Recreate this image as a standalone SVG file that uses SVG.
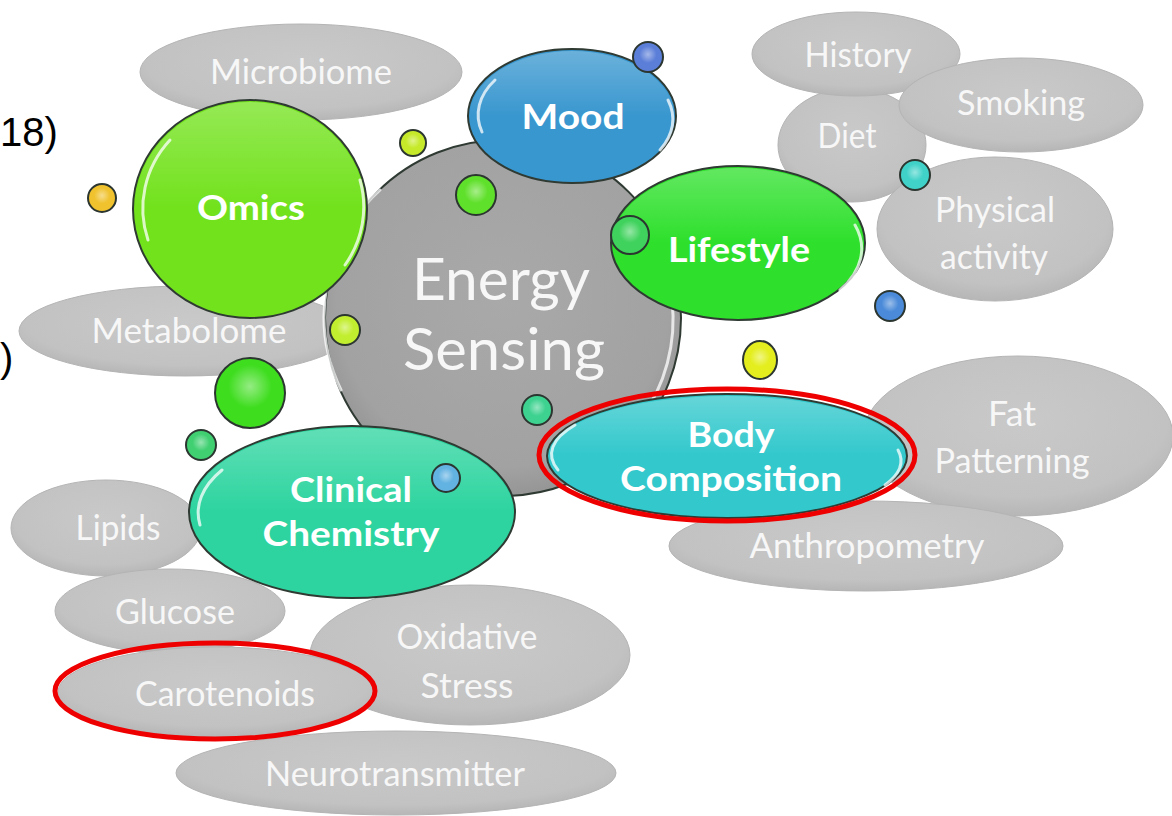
<svg xmlns="http://www.w3.org/2000/svg" width="1172" height="816" viewBox="0 0 1172 816">
  <defs>
    <radialGradient id="gGray" cx="50%" cy="40%" r="60%">
      <stop offset="0" stop-color="#c9c9c9"/>
      <stop offset="0.8" stop-color="#c2c2c2"/>
      <stop offset="1" stop-color="#b6b6b6"/>
    </radialGradient>
    <radialGradient id="gCore" cx="50%" cy="45%" r="55%">
      <stop offset="0" stop-color="#a9a9a9"/>
      <stop offset="0.85" stop-color="#a2a2a2"/>
      <stop offset="1" stop-color="#959595"/>
    </radialGradient>
    <linearGradient id="shine" x1="0" y1="0" x2="0" y2="1">
      <stop offset="0" stop-color="#ffffff" stop-opacity="0.25"/>
      <stop offset="0.5" stop-color="#ffffff" stop-opacity="0"/>
    </linearGradient>
    <radialGradient id="dotShine" cx="50%" cy="40%" r="55%">
      <stop offset="0" stop-color="#ffffff" stop-opacity="0.45"/>
      <stop offset="0.6" stop-color="#ffffff" stop-opacity="0"/>
    </radialGradient>
  </defs>
  <style>
    .bg { fill: url(#gGray); stroke: #b4b4b4; stroke-width: 1; }
    .lt { font-family: Lato, "Liberation Sans", sans-serif; font-size: 34px; fill: #f7f7f7; text-anchor: middle; }
    .bt { font-family: Lato, "Liberation Sans", sans-serif; font-size: 34px; font-weight: bold; fill: #ffffff; text-anchor: middle; }
    .node { stroke: #2f3a33; stroke-width: 2; }
    .hl { fill: none; stroke: #ffffff; stroke-width: 3; stroke-linecap: round; opacity: 0.75; }
    .dot { stroke: #2c3630; stroke-width: 2; }
    .ring { fill: none; stroke: #ee0000; stroke-width: 5; }
    .side { font-family: "Liberation Sans", Arial, sans-serif; font-size: 40px; fill: #000000; }
  </style>

  <rect width="1172" height="816" fill="#ffffff"/>

  <!-- text fragments at the left margin -->
  <text class="side" x="0" y="146">18)</text>
  <text class="side" x="0" y="372">)</text>

  <!-- outer grey topics -->
  <g id="microbiome"><ellipse class="bg" cx="301" cy="72" rx="161" ry="48"/><text class="lt" x="301" y="84" textLength="182" lengthAdjust="spacingAndGlyphs">Microbiome</text></g>
  <g id="metabolome"><ellipse class="bg" cx="185" cy="331" rx="166" ry="45"/><text class="lt" x="189" y="343" textLength="195" lengthAdjust="spacingAndGlyphs">Metabolome</text></g>
  <g id="diet"><ellipse class="bg" cx="852" cy="145" rx="74" ry="57"/><text class="lt" x="847" y="148" textLength="59" lengthAdjust="spacingAndGlyphs">Diet</text></g>
  <g id="history"><ellipse class="bg" cx="856" cy="54" rx="104" ry="42"/><text class="lt" x="858" y="67" textLength="107" lengthAdjust="spacingAndGlyphs">History</text></g>
  <g id="smoking"><ellipse class="bg" cx="1021" cy="105" rx="122" ry="47"/><text class="lt" x="1021" y="115" textLength="128" lengthAdjust="spacingAndGlyphs">Smoking</text></g>
  <g id="physical-activity"><ellipse class="bg" cx="995" cy="229" rx="118" ry="72"/><text class="lt" x="995" y="222" textLength="120" lengthAdjust="spacingAndGlyphs">Physical</text><text class="lt" x="994" y="269" textLength="108" lengthAdjust="spacingAndGlyphs">activity</text></g>
  <g id="fat-patterning"><ellipse class="bg" cx="1018" cy="436" rx="155" ry="80"/><text class="lt" x="1012" y="426" textLength="48" lengthAdjust="spacingAndGlyphs">Fat</text><text class="lt" x="1012" y="473" textLength="155" lengthAdjust="spacingAndGlyphs">Patterning</text></g>
  <g id="anthropometry"><ellipse class="bg" cx="866" cy="546" rx="197" ry="45"/><text class="lt" x="867" y="558" textLength="235" lengthAdjust="spacingAndGlyphs">Anthropometry</text></g>
  <g id="lipids"><ellipse class="bg" cx="106" cy="528" rx="95" ry="48"/><text class="lt" x="118" y="540" textLength="85" lengthAdjust="spacingAndGlyphs">Lipids</text></g>
  <g id="glucose"><ellipse class="bg" cx="170" cy="611" rx="115" ry="42"/><text class="lt" x="175" y="624" textLength="120" lengthAdjust="spacingAndGlyphs">Glucose</text></g>
  <g id="oxidative-stress"><ellipse class="bg" cx="470" cy="655" rx="160" ry="70"/><text class="lt" x="467" y="649" textLength="141" lengthAdjust="spacingAndGlyphs">Oxidative</text><text class="lt" x="467" y="698" textLength="93" lengthAdjust="spacingAndGlyphs">Stress</text></g>
  <g id="carotenoids"><ellipse class="bg" cx="216" cy="692" rx="158" ry="45"/><text class="lt" x="225" y="706" textLength="180" lengthAdjust="spacingAndGlyphs">Carotenoids</text></g>
  <g id="neurotransmitter"><ellipse class="bg" cx="396" cy="773" rx="220" ry="42"/><text class="lt" x="395" y="786" textLength="260" lengthAdjust="spacingAndGlyphs">Neurotransmitter</text></g>

  <!-- central circle -->
  <g id="energy-sensing">
    <circle class="node" cx="503" cy="318" r="178" fill="url(#gCore)"/>
    <path class="hl" d="M341 390 A170 170 0 0 1 380 190" opacity="0.5"/>
    <path class="hl" d="M672 300 A170 170 0 0 1 640 420" opacity="0.5"/>
    <text class="lt" x="501" y="300" style="font-size:58px" textLength="178" lengthAdjust="spacingAndGlyphs">Energy</text>
    <text class="lt" x="504" y="370" style="font-size:58px" textLength="202" lengthAdjust="spacingAndGlyphs">Sensing</text>
  </g>

  <!-- coloured domains -->
  <g id="omics">
    <ellipse class="node" cx="250" cy="209" rx="117" ry="109" fill="#72e21c"/>
    <ellipse cx="250" cy="209" rx="115" ry="107" fill="url(#shine)"/>
    <path class="hl" d="M148 240 A110 104 0 0 1 170 140"/>
    <path class="hl" d="M360 180 A110 104 0 0 1 345 265"/>
    <text class="bt" x="251" y="220" textLength="108" lengthAdjust="spacingAndGlyphs">Omics</text>
  </g>
  <g id="mood">
    <ellipse class="node" cx="572" cy="116" rx="104" ry="67" fill="#3997cf"/>
    <ellipse cx="572" cy="116" rx="102" ry="65" fill="url(#shine)"/>
    <path class="hl" d="M482 132 A98 62 0 0 1 495 80"/>
    <path class="hl" d="M668 100 A98 62 0 0 1 660 150"/>
    <text class="bt" x="573" y="129" textLength="103" lengthAdjust="spacingAndGlyphs">Mood</text>
  </g>
  <g id="lifestyle">
    <ellipse class="node" cx="738" cy="243" rx="127" ry="77" fill="#2ee02c"/>
    <ellipse cx="738" cy="243" rx="125" ry="75" fill="url(#shine)"/>
    <path class="hl" d="M855 225 A120 72 0 0 1 840 290"/>
    <text class="bt" x="739" y="262" textLength="142" lengthAdjust="spacingAndGlyphs">Lifestyle</text>
  </g>
  <g id="clinical-chemistry">
    <ellipse class="node" cx="352" cy="512" rx="163" ry="86" fill="#2dd49f"/>
    <ellipse cx="352" cy="512" rx="161" ry="84" fill="url(#shine)"/>
    <path class="hl" d="M200 525 A155 80 0 0 1 222 470"/>
    <text class="bt" x="351" y="502" textLength="122" lengthAdjust="spacingAndGlyphs">Clinical</text>
    <text class="bt" x="351" y="546" textLength="177" lengthAdjust="spacingAndGlyphs">Chemistry</text>
  </g>
  <g id="body-composition">
    <ellipse class="node" cx="727" cy="456" rx="180" ry="62" fill="#32c8cc"/>
    <ellipse cx="727" cy="456" rx="178" ry="60" fill="url(#shine)"/>
    <path class="hl" d="M558 470 A172 58 0 0 1 575 425"/>
    <path class="hl" d="M898 450 A172 58 0 0 1 885 485"/>
    <text class="bt" x="731" y="447" textLength="87" lengthAdjust="spacingAndGlyphs">Body</text>
    <text class="bt" x="731" y="491" textLength="222" lengthAdjust="spacingAndGlyphs">Composition</text>
  </g>

  <!-- small floating bubbles -->
  <g id="bubbles">
    <circle class="dot" cx="102" cy="198" r="14" fill="#f0c22e"/>
    <circle class="dot" cx="413" cy="143" r="13" fill="#c6ea2a"/>
    <circle class="dot" cx="648" cy="57" r="15" fill="#5b7ed8"/>
    <circle class="dot" cx="476" cy="195" r="20" fill="#5fe02a"/>
    <circle class="dot" cx="630" cy="235" r="19" fill="#3fd25c"/>
    <circle class="dot" cx="915" cy="175" r="15" fill="#40d2c8"/>
    <circle class="dot" cx="890" cy="306" r="15" fill="#4a8ad8"/>
    <ellipse class="dot" cx="760" cy="360" rx="17" ry="19" fill="#e4ee1e"/>
    <circle class="dot" cx="345" cy="330" r="15" fill="#c2ee30"/>
    <circle class="dot" cx="250" cy="393" r="35" fill="#3edd1e"/>
    <circle class="dot" cx="201" cy="445" r="15" fill="#40d072"/>
    <circle class="dot" cx="537" cy="410" r="15" fill="#3ed290"/>
    <circle class="dot" cx="446" cy="478" r="14" fill="#62b2e2"/>
    <g fill="url(#dotShine)">
      <circle cx="102" cy="198" r="12"/><circle cx="413" cy="143" r="11"/><circle cx="648" cy="57" r="13"/>
      <circle cx="476" cy="195" r="18"/><circle cx="630" cy="235" r="17"/><circle cx="915" cy="175" r="13"/>
      <circle cx="890" cy="306" r="13"/><circle cx="760" cy="360" r="15"/><circle cx="345" cy="330" r="13"/>
      <circle cx="250" cy="393" r="33"/><circle cx="201" cy="445" r="13"/><circle cx="537" cy="410" r="13"/>
      <circle cx="446" cy="478" r="12"/>
    </g>
  </g>

  <!-- emphasis rings -->
  <g id="highlights">
    <ellipse class="ring" cx="727" cy="455" rx="188" ry="66"/>
    <ellipse class="ring" cx="215" cy="691" rx="160" ry="48"/>
  </g>
</svg>
